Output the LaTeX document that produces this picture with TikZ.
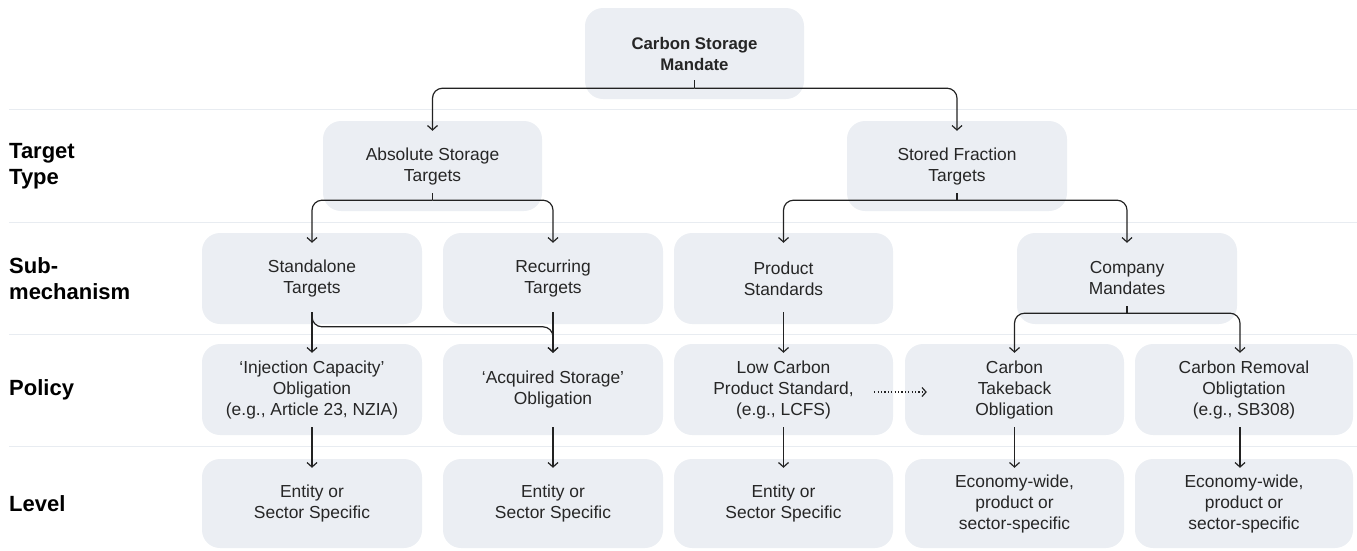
\documentclass[tikz,border=0pt]{standalone}
\usepackage{fontspec}
\setmainfont{Liberation Sans}
\usetikzlibrary{arrows.meta,calc}

\definecolor{boxfill}{HTML}{EBEEF3}
\definecolor{boxtext}{HTML}{262626}
\definecolor{rowrule}{HTML}{E8ECF1}
\definecolor{ink}{HTML}{222222}

\begin{document}
\begin{tikzpicture}[x=1pt,y=-1pt,
  box/.style={fill=boxfill, rounded corners=18pt, minimum width=220pt,
    minimum height=91pt, inner sep=0pt, align=center, text=boxtext,
    font=\fontsize{17.4}{21}\selectfont},
  headbox/.style={box, font=\fontsize{16.8}{21}\selectfont\bfseries},
  rowlabel/.style={anchor=west, align=left, inner sep=0pt, text=black,
    font=\fontsize{22}{26}\selectfont\bfseries},
  link/.style={draw=ink, line width=1.2pt},
  flow/.style={link, rounded corners=10pt, -{Straight Barb[length=4.5pt,width=10pt]}},
  hint/.style={draw=ink, line width=1.2pt, dash pattern=on 1.2pt off 2.2pt,
    -{Straight Barb[length=4pt,width=9pt]}},
  rowline/.style={draw=rowrule, line width=1pt}
]
\useasboundingbox (0,0) rectangle (1357,550);

% row separators
\foreach \yy in {109,222,334,446}
  \draw[rowline] (9,\yy) -- (1357,\yy);

% row labels
\node[rowlabel] (lTarget) at (9,166) {Target\\Type};
\node[rowlabel] (lSub)    at (9,278.5) {Sub-\\mechanism};
\node[rowlabel] (lPolicy) at (9,390) {Policy};
\node[rowlabel] (lLevel)  at (9,503.5) {Level};

% hierarchy boxes
\node[headbox, minimum width=219pt] (top) at (694.5,53.5) {Carbon Storage\\Mandate};

\node[box, minimum width=219pt, minimum height=90pt] (abs)  at (432.5,166) {Absolute Storage\\Targets};
\node[box, minimum height=90pt] (frac) at (957,166) {Stored Fraction\\Targets};

\node[box] (stand) at (312,278.5)   {Standalone\\Targets};
\node[box] (recur) at (553,278.5)   {Recurring\\Targets};
\node[box, minimum width=219pt] (prod) at (783.5,278.5) {Product\\Standards};
\node[box] (comp)  at (1127,278.5)  {Company\\Mandates};

\node[box] (inj)  at (312,389.5)   {‘Injection Capacity’\\Obligation\\(e.g., Article 23, NZIA)};
\node[box] (acq)  at (553,389.5)   {‘Acquired Storage’\\Obligation};
\node[box, minimum width=219pt] (lcps) at (783.5,389.5) {Low Carbon\\Product Standard,\\(e.g., LCFS)};
\node[box, minimum width=219pt] (take) at (1014.5,389.5) {Carbon\\Takeback\\Obligation};
\node[box, minimum width=218pt] (remv) at (1244,389.5) {Carbon Removal\\Obligtation\\(e.g., SB308)};

\node[box, minimum height=89pt] (ent1) at (312,503.5)   {Entity or\\Sector Specific};
\node[box, minimum height=89pt] (ent2) at (553,503.5)   {Entity or\\Sector Specific};
\node[box, minimum height=89pt, minimum width=219pt] (ent3) at (783.5,503.5) {Entity or\\Sector Specific};
\node[box, minimum height=89pt, minimum width=219pt] (eco1) at (1014.5,503.5) {Economy-wide,\\product or\\sector-specific};
\node[box, minimum height=89pt, minimum width=218pt] (eco2) at (1244,503.5) {Economy-wide,\\product or\\sector-specific};

% mandate -> target types
\draw[link] ($(top.south)+(0,-19)$) -- ($(top.south)+(0,-11)$);
\draw[flow] ($(top.south)+(0,-11)$) -| ($(abs.north)+(0,10)$);
\draw[flow] ($(top.south)+(0,-11)$) -| ($(frac.north)+(0,10)$);

% target types -> sub-mechanisms
\draw[link] ($(abs.south)+(0,-18)$) -- ($(abs.south)+(0,-11)$);
\draw[flow] ($(abs.south)+(0,-11)$) -| ($(stand.north)+(0,10)$);
\draw[flow] ($(abs.south)+(0,-11)$) -| ($(recur.north)+(0,10)$);
\draw[link] ($(frac.south)+(0,-18)$) -- ($(frac.south)+(0,-11)$);
\draw[flow] ($(frac.south)+(0,-11)$) -| ($(prod.north)+(0,10)$);
\draw[flow] ($(frac.south)+(0,-11)$) -| ($(comp.north)+(0,10)$);

% sub-mechanisms -> policies
\draw[flow] ($(stand.south)+(0,-12)$) -- ($(inj.north)+(0,9)$);
\draw[flow] ($(stand.south)+(0,-12)$) |- ($(acq.north)+(0,-17)$) -- ($(acq.north)+(0,9)$);
\draw[flow] ($(recur.south)+(0,-12)$) -- ($(acq.north)+(0,9)$);
\draw[flow] ($(prod.south)+(0,-12)$) -- ($(lcps.north)+(0,9)$);
\draw[link] ($(comp.south)+(0,-18)$) -- ($(comp.south)+(0,-11)$);
\draw[flow] ($(comp.south)+(0,-11)$) -| ($(take.north)+(0,9)$);
\draw[flow] ($(comp.south)+(0,-11)$) -| ($(remv.north)+(-4,9)$);

% policies -> levels
\draw[flow] ($(inj.south)+(0,-8)$)  -- ($(ent1.north)+(0,9)$);
\draw[flow] ($(acq.south)+(0,-8)$)  -- ($(ent2.north)+(0,9)$);
\draw[flow] ($(lcps.south)+(0,-8)$) -- ($(ent3.north)+(0,9)$);
\draw[flow] ($(take.south)+(0,-8)$) -- ($(eco1.north)+(0,9)$);
\draw[flow] ($(remv.south)+(-4,-8)$) -- ($(eco2.north)+(-4,9)$);

% product standard feeding the takeback obligation
\draw[hint] ($(lcps.east)+(-19,2.5)$) -- ($(take.west)+(22,2.5)$);
\end{tikzpicture}
\end{document}
